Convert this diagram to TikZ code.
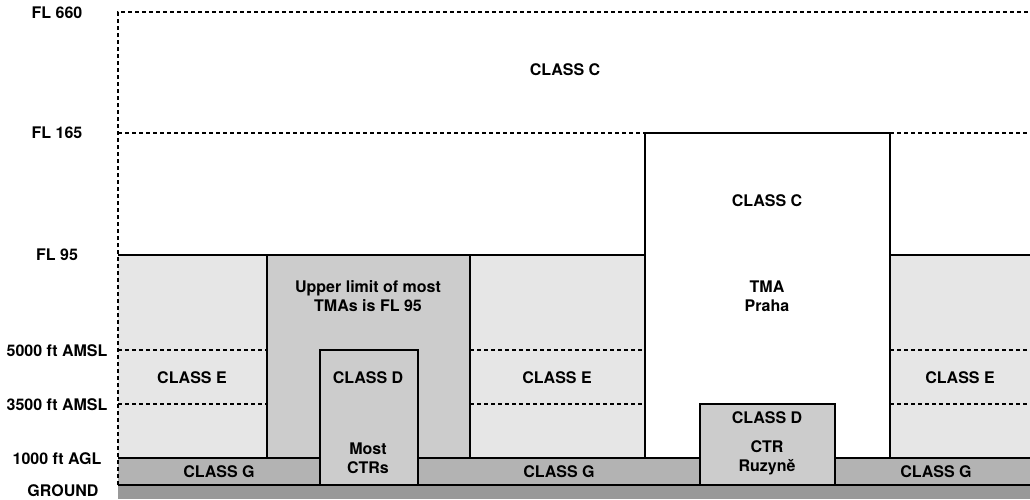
\documentclass[tikz,border=0pt]{standalone}
\usepackage{fontspec}
\setmainfont{TeX Gyre Heros}
\definecolor{classE}{HTML}{E6E6E6}
\definecolor{classD}{HTML}{CCCCCC}
\definecolor{classG}{HTML}{B3B3B3}
\definecolor{groundgrey}{HTML}{999999}
\begin{document}
\begin{tikzpicture}[x=0.5pt, y=-0.5pt,
	lbl/.style={font=\bfseries\fontsize{8}{9.5}\selectfont, align=center, inner sep=0pt},
	edge/.style={draw=black, line width=0.6pt},
	limit/.style={black, line width=0.6pt, dash pattern=on 2pt off 1.5pt}
]
\useasboundingbox (0,0) rectangle (1030,499);
% class E blocks with their altitude limits
\foreach \l/\r in {118/267, 470/645, 890/1030} {
		\fill[classE] (\l,255) rectangle (\r,458);
		\draw[edge] (\l,255) -- (\r,255);
		\draw[limit] (\l,350) -- (\r,350);
		\draw[limit] (\l,404) -- (\r,404);
	}
% TMAs
\draw[edge, fill=classD] (267,458) rectangle (470,255);
\draw[edge, fill=white] (645,458) rectangle (890,133);
\draw[limit] (118,133) -- (645,133);
\draw[limit] (890,133) -- (1030,133);
% class G and ground
\fill[classG] (118,458) rectangle (1030,485);
\draw[edge] (118,458) -- (1030,458);
\fill[groundgrey] (118,485) rectangle (1030,499);
\draw[edge] (118,485) -- (1030,485);
% CTRs
\draw[edge, fill=classD] (320,485) rectangle (418,350);
\draw[edge, fill=classD] (700,485) rectangle (835,404);
% outer limits
\draw[limit] (118,485) -- (118,12) -- (1030,12);

% levels
\node[lbl] (fl660) at (57,13) {FL 660};
\node[lbl] (fl165) at (57,133) {FL 165};
\node[lbl] (fl95) at (57,255) {FL 95};
\node[lbl] (a5000) at (57,351) {5000 ft AMSL};
\node[lbl] (a3500) at (57,405) {3500 ft AMSL};
\node[lbl] (agl) at (57,459) {1000 ft AGL};
\node[lbl] (gnd) at (63,491) {GROUND};

% classes
\node[lbl] (cUpper) at (565,70) {CLASS C};
\node[lbl] (cTma) at (767,201) {CLASS C};
\node[lbl] (tmaNote) at (368,296) {Upper limit of most\\TMAs is FL 95};
\node[lbl] (tmaPraha) at (767,296) {TMA\\Praha};
\node[lbl] (eLeft) at (192,378) {CLASS E};
\node[lbl] (eMid) at (557,378) {CLASS E};
\node[lbl] (eRight) at (960,378) {CLASS E};
\node[lbl] (dMost) at (368,378) {CLASS D};
\node[lbl] (ctrMost) at (368,458) {Most\\CTRs};
\node[lbl] (dRuz) at (767,418) {CLASS D};
\node[lbl] (ctrRuz) at (767,458) {CTR\\Ruzyně};
\node[lbl] (gLeft) at (219,472) {CLASS G};
\node[lbl] (gMid) at (559,472) {CLASS G};
\node[lbl] (gRight) at (936,472) {CLASS G};
\end{tikzpicture}
\end{document}
